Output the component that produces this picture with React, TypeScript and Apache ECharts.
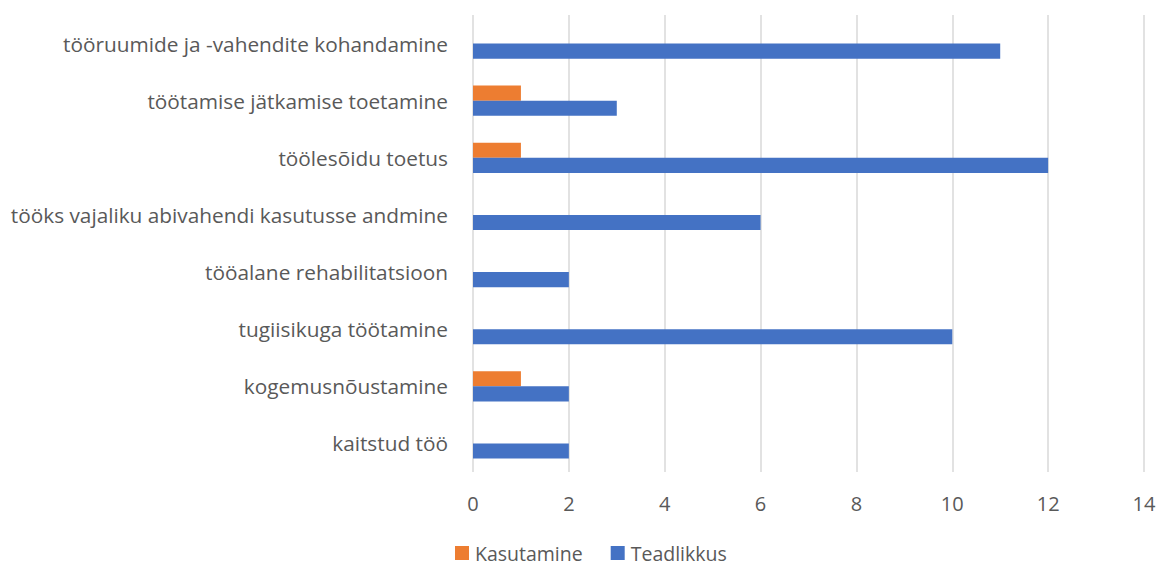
import React, { useEffect, useRef } from "react";
import * as echarts from "echarts";

const categories = [
  "kaitstud töö",
  "kogemusnõustamine",
  "tugiisikuga töötamine",
  "tööalane rehabilitatsioon",
  "tööks vajaliku abivahendi kasutusse andmine",
  "töölesõidu toetus",
  "töötamise jätkamise toetamine",
  "tööruumide ja -vahendite kohandamine",
];
const kasutamine = [0, 1, 0, 0, 0, 1, 1, 0];
const teadlikkus = [2, 2, 10, 2, 6, 12, 3, 11];
const seriesNames = ["Kasutamine", "Teadlikkus"];

const FONT = "'Open Sans', sans-serif";

export default function App() {
  const ref = useRef<HTMLDivElement>(null);
  useEffect(() => {
    const chart = echarts.init(ref.current!, null, { renderer: "svg" });
    chart.setOption({
      animation: false,
      backgroundColor: "#ffffff",
      grid: { left: 473, right: 16, top: 15, bottom: 94, containLabel: false },
      legend: {
        data: seriesNames,
        top: 543,
        left: 455,
        padding: 0,
        icon: "rect",
        itemWidth: 14,
        itemHeight: 14,
        itemGap: 28,
        textStyle: {
          color: "#595959",
          fontSize: 19.5,
          lineHeight: 19,
          fontFamily: FONT,
          padding: [0, 0, 0, 1],
        },
      },
      xAxis: {
        type: "value",
        min: 0,
        max: 14,
        interval: 2,
        axisLine: { show: false },
        axisTick: { show: false },
        axisLabel: { color: "#595959", fontSize: 20, fontFamily: FONT, margin: 21 },
        splitLine: { lineStyle: { color: "#d9d9d9", width: 1.5 } },
      },
      yAxis: {
        type: "category",
        data: categories,
        axisLine: { show: false },
        axisTick: { show: false },
        axisLabel: { color: "#595959", fontSize: 20.8, fontFamily: FONT, margin: 25 },
      },
      series: [
        {
          name: seriesNames[0],
          type: "bar",
          data: kasutamine,
          itemStyle: { color: "#ED7D31" },
          barGap: "0%",
          barCategoryGap: "47%",
        },
        {
          name: seriesNames[1],
          type: "bar",
          data: teadlikkus,
          itemStyle: { color: "#4472C4" },
          barGap: "0%",
          barCategoryGap: "47%",
        },
      ],
    });
    return () => chart.dispose();
  }, []);
  return (
    <div
      ref={ref}
      style={{ width: 1160, height: 566, position: "fixed", left: 0, top: 0 }}
    />
  );
}
